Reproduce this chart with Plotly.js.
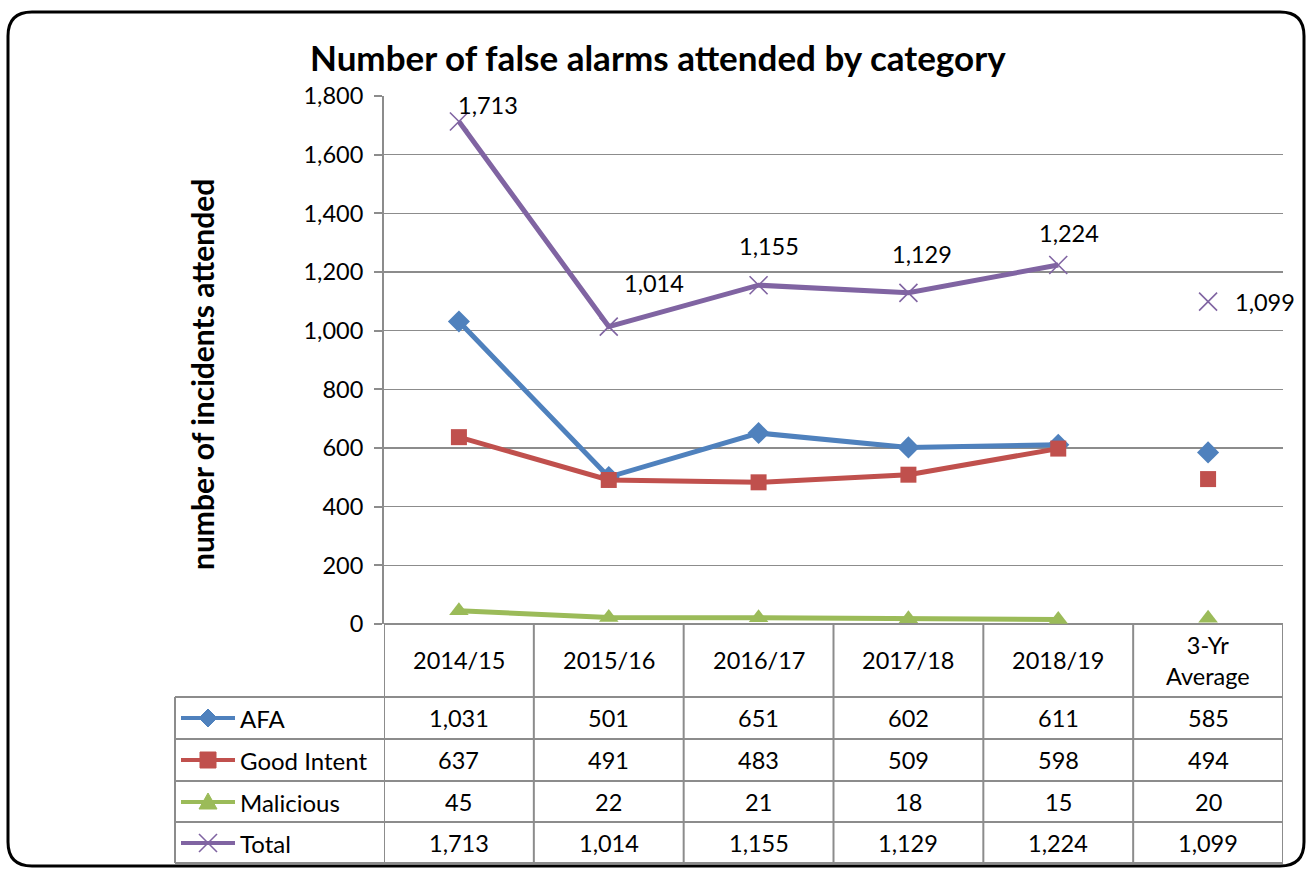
<!DOCTYPE html>
<html>
<head>
<meta charset="utf-8">
<script src="https://cdn.plot.ly/plotly-3.0.1.min.js"></script>
<style>html,body{margin:0;padding:0;background:#fff;}#chart{width:1309px;height:869px;}</style>
</head>
<body>
<div id="chart"></div>
<script>
// ---------- data ----------
const categories = ['2014/15', '2015/16', '2016/17', '2017/18', '2018/19', '3-Yr Average'];
const headerLabels = ['2014/15', '2015/16', '2016/17', '2017/18', '2018/19', '3-Yr<br>Average'];
const seriesNames = ['AFA', 'Good Intent', 'Malicious', 'Total'];
const afa = [1031, 501, 651, 602, 611, 585];
const goodIntent = [637, 491, 483, 509, 598, 494];
const malicious = [45, 22, 21, 18, 15, 20];
const total = [1713, 1014, 1155, 1129, 1224, 1099];
const yTickVals = [0, 200, 400, 600, 800, 1000, 1200, 1400, 1600, 1800];
const chartTitle = 'Number of false alarms attended by category';
const yTitle = 'number of incidents attended';

// ---------- styles ----------
const W = 1309, H = 869;
const FONT = 'Lato, "Open Sans", sans-serif';
const TXT = 23.5;
const colors = ['#4F81BD', '#C0504D', '#9BBB59', '#8064A2'];
const symbols = ['diamond', 'square', 'triangle-up', 'x-thin'];
const mSizes = [17, 16, 17, 18];
const seriesData = [afa, goodIntent, malicious, total];
const plotL = 384, plotR = 1283, plotT = 96, plotB = 624;
const tableLeft = 175;
const rowLines = [697, 739, 781, 822, 863];
const rowCenters = [718, 760, 802, 843];
const headerCenter = 660;
const gridColor = '#8C8C8C';
// label offsets (pixels) for Total data labels
const labelShift = [[29, 17], [45, 44], [10, 39], [14, 39], [11, 32], [57, 0]];

const nLine = 5; // first five categories are joined by lines; last is a separate average point

const traces = [];
seriesData.forEach((vals, i) => {
  const mk = {symbol: symbols[i], size: mSizes[i], color: colors[i]};
  if (symbols[i] === 'x-thin') mk.line = {color: colors[i], width: 1.6};
  traces.push({
    type: 'scatter', mode: 'lines+markers', name: seriesNames[i],
    x: categories.slice(0, nLine), y: vals.slice(0, nLine),
    line: {color: colors[i], width: 5}, marker: mk, cliponaxis: false,
    showlegend: false, hoverinfo: 'x+y+name', xaxis: 'x', yaxis: 'y'
  });
  traces.push({
    type: 'scatter', mode: 'markers', name: seriesNames[i],
    x: categories.slice(nLine), y: vals.slice(nLine),
    marker: mk, cliponaxis: false,
    showlegend: false, hoverinfo: 'x+y+name', xaxis: 'x', yaxis: 'y'
  });
});
// empty trace to instantiate the pixel overlay axes
traces.push({type: 'scatter', x: [], y: [], xaxis: 'x2', yaxis: 'y2', showlegend: false, hoverinfo: 'skip'});

const shapes = [];
const annotations = [];
const r = 24, bx0 = 8, bx1 = 1304, by0 = 12, by1 = 866;
// rounded outer frame
shapes.push({
  type: 'path', xref: 'x2', yref: 'y2', layer: 'above',
  path: `M ${bx0 + r} ${by0} H ${bx1 - r} Q ${bx1} ${by0} ${bx1} ${by0 + r} V ${by1 - r} Q ${bx1} ${by1} ${bx1 - r} ${by1} H ${bx0 + r} Q ${bx0} ${by1} ${bx0} ${by1 - r} V ${by0 + r} Q ${bx0} ${by0} ${bx0 + r} ${by0} Z`,
  line: {color: '#000', width: 3}
});
// table horizontal lines
rowLines.forEach(y => shapes.push({type: 'line', xref: 'x2', yref: 'y2', x0: tableLeft, x1: plotR, y0: y, y1: y, line: {color: gridColor, width: 2}}));
// left-most table column vertical
shapes.push({type: 'line', xref: 'x2', yref: 'y2', x0: tableLeft, x1: tableLeft, y0: rowLines[0], y1: rowLines[rowLines.length - 1], line: {color: gridColor, width: 2}});
// category separators (in category units)
for (let j = 0; j <= categories.length; j++) {
  shapes.push({type: 'line', xref: 'x', yref: 'y2', x0: j - 0.5, x1: j - 0.5, y0: plotB, y1: rowLines[rowLines.length - 1], line: {color: gridColor, width: 2}});
}
// header labels
categories.forEach((c, j) => annotations.push({
  xref: 'x', yref: 'y2', x: c, y: headerCenter, text: headerLabels[j], showarrow: false,
  font: {family: FONT, size: TXT, color: '#000'}, align: 'center'
}));
// table values and legend keys
seriesData.forEach((vals, i) => {
  const yc = rowCenters[i];
  vals.forEach((v, j) => annotations.push({
    xref: 'x', yref: 'y2', x: categories[j], y: yc, text: v.toLocaleString('en-US'), showarrow: false,
    font: {family: FONT, size: TXT, color: '#000'}
  }));
  annotations.push({
    xref: 'x2', yref: 'y2', x: 238, y: yc, xanchor: 'left', text: seriesNames[i], showarrow: false,
    font: {family: FONT, size: 24, color: '#000'}
  });
  // key line
  shapes.push({type: 'line', xref: 'x2', yref: 'y2', x0: 181, x1: 235, y0: yc, y1: yc, line: {color: colors[i], width: 4}});
  // key marker
  const cx = 208, s = 8;
  let path;
  if (symbols[i] === 'diamond') path = `M ${cx} ${yc - 9} L ${cx + 9} ${yc} L ${cx} ${yc + 9} L ${cx - 9} ${yc} Z`;
  else if (symbols[i] === 'square') path = `M ${cx - s} ${yc - s} H ${cx + s} V ${yc + s} H ${cx - s} Z`;
  else if (symbols[i] === 'triangle-up') path = `M ${cx} ${yc - 9} L ${cx + 9} ${yc + 7} L ${cx - 9} ${yc + 7} Z`;
  if (path) shapes.push({type: 'path', xref: 'x2', yref: 'y2', path: path, fillcolor: colors[i], line: {color: colors[i], width: 1}});
  else {
    shapes.push({type: 'line', xref: 'x2', yref: 'y2', x0: cx - 9, x1: cx + 9, y0: yc - 9, y1: yc + 9, line: {color: colors[i], width: 1.6}});
    shapes.push({type: 'line', xref: 'x2', yref: 'y2', x0: cx - 9, x1: cx + 9, y0: yc + 9, y1: yc - 9, line: {color: colors[i], width: 1.6}});
  }
});
// Total data labels
total.forEach((v, j) => annotations.push({
  xref: 'x', yref: 'y', x: categories[j], y: v, text: v.toLocaleString('en-US'), showarrow: false,
  xshift: labelShift[j][0], yshift: labelShift[j][1],
  font: {family: FONT, size: TXT, color: '#000'}
}));
// title and y title
annotations.push({xref: 'x2', yref: 'y2', x: 658, y: 57, text: '<b>' + chartTitle + '</b>', showarrow: false,
  font: {family: FONT, size: 35, color: '#000'}});
annotations.push({xref: 'x2', yref: 'y2', x: 202, y: 375, text: '<b>' + yTitle + '</b>', textangle: -90, showarrow: false,
  font: {family: FONT, size: 30, color: '#000'}});

const layout = {
  width: W, height: H,
  margin: {l: 0, r: 0, t: 0, b: 0, pad: 0},
  paper_bgcolor: '#fff', plot_bgcolor: 'rgba(0,0,0,0)',
  showlegend: false,
  font: {family: FONT, color: '#000'},
  xaxis: {
    type: 'category', categoryorder: 'array', categoryarray: categories,
    range: [-0.5, categories.length - 0.5],
    domain: [plotL / W, plotR / W], anchor: 'y',
    showticklabels: false, ticks: '', showgrid: false, zeroline: false,
    showline: false, fixedrange: true
  },
  yaxis: {
    range: [0, 1800], domain: [1 - plotB / H, 1 - plotT / H], anchor: 'x',
    tickvals: yTickVals, ticktext: yTickVals.map(v => v.toLocaleString('en-US')),
    ticks: 'outside', ticklen: 8, tickwidth: 2, tickcolor: gridColor,
    showline: true, linecolor: gridColor, linewidth: 2,
    showgrid: true, gridcolor: gridColor, gridwidth: 1.5,
    zeroline: true, zerolinecolor: gridColor, zerolinewidth: 2,
    tickfont: {family: FONT, size: TXT, color: '#000'}, ticklabelstandoff: 6,
    fixedrange: true
  },
  xaxis2: {domain: [0, 1], range: [0, W], anchor: 'y2', visible: false, fixedrange: true},
  yaxis2: {domain: [0, 1], range: [H, 0], anchor: 'x2', visible: false, fixedrange: true},
  shapes: shapes,
  annotations: annotations
};

Plotly.newPlot('chart', traces, layout, {displayModeBar: false, staticPlot: true});
</script>
</body>
</html>
